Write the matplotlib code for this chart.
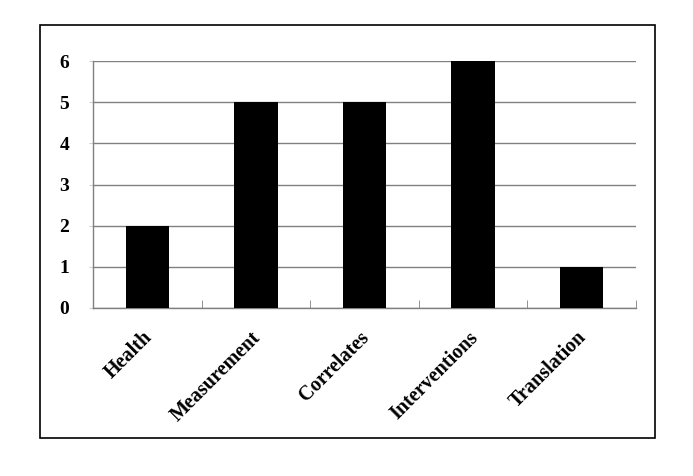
import matplotlib
matplotlib.use('Agg')
import matplotlib.pyplot as plt
import matplotlib.transforms as mtransforms
from matplotlib.patches import Rectangle

categories = ["Health", "Measurement", "Correlates", "Interventions", "Translation"]
counts = [2, 5, 5, 6, 1]
y_ticks = [0, 1, 2, 3, 4, 5, 6]

plt.rcParams['font.family'] = ['Liberation Serif', 'DejaVu Serif']
plt.rcParams['font.weight'] = 'bold'

fig = plt.figure(figsize=(6.93, 4.76), dpi=100)
ax = fig.add_axes([93 / 693, 1 - 308 / 476, 543 / 693, 247 / 476])

x = list(range(len(categories)))
ax.bar(x, counts, width=0.4, color='black', zorder=3)

ax.set_xlim(-0.5, len(categories) - 0.5)
ax.set_ylim(0, 6)
ax.set_yticks(y_ticks)
ax.set_yticklabels([str(v) for v in y_ticks], fontsize=14, fontweight='bold')
ax.yaxis.grid(True, color='#808080', linewidth=1, zorder=0)

# category labels, boundary ticks point up into the plot
ax.set_xticks(x)
ax.set_xticklabels(categories, rotation=45, ha='right', rotation_mode='anchor',
                   fontsize=14.5, fontweight='bold')
ax.tick_params(axis='x', length=0, pad=14)
shift = mtransforms.ScaledTranslation(-5 / 100, 0, fig.dpi_scale_trans)
for lbl in ax.get_xticklabels():
    lbl.set_transform(lbl.get_transform() + shift)
ax.set_xticks([i + 0.5 for i in range(len(categories))], minor=True)
ax.tick_params(axis='x', which='minor', direction='in', length=6, color='#808080')
ax.tick_params(axis='y', length=3, color='#d0d0d0', pad=14)

for side in ['top', 'right']:
    ax.spines[side].set_visible(False)
for side in ['left', 'bottom']:
    ax.spines[side].set_color('#808080')
    ax.spines[side].set_linewidth(1)

# outer frame
fig.patches.append(Rectangle((40 / 693, 1 - 438 / 476), 615 / 693, 413 / 476,
                             transform=fig.transFigure, fill=False,
                             edgecolor='black', linewidth=1.2))

fig.savefig('out.png', dpi=100)
